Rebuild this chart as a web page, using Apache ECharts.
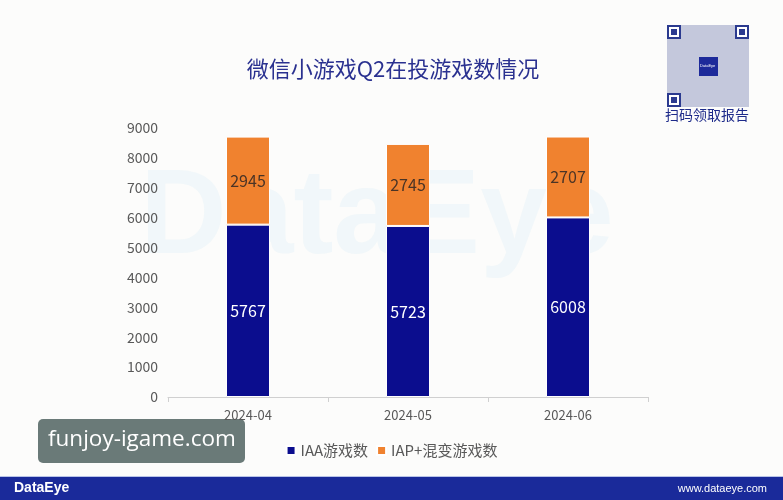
<!DOCTYPE html>
<html>
<head>
<meta charset="utf-8">
<script src="https://cdn.jsdelivr.net/npm/echarts@6/dist/echarts.min.js"></script>
<style>
  html, body { margin: 0; padding: 0; background: #fcfcfb; }
  #chartsId { width: 783px; height: 500px; }
</style>
</head>
<body>
<div id="chartsId"></div>
<script>
var months = ["2024-04", "2024-05", "2024-06"];
var iaaCount = [5767, 5723, 6008];
var iapCount = [2945, 2745, 2707];
var yTicks = [0, 9000, 1000];

var font = "'Noto Sans CJK SC', 'Noto Sans', sans-serif";

// 二维码示意块
function qrGraphic() {
  var items = [];
  var x0 = 667, y0 = 25, s = 82;
  items.push({ type: "rect", shape: { x: x0, y: y0, width: s, height: s }, style: { fill: "#c4c8dc" }, z: 10 });
  var finders = [[x0, y0], [x0 + s - 14, y0], [x0, y0 + s - 14]];
  finders.forEach(function (p) {
    items.push({ type: "rect", shape: { x: p[0], y: p[1], width: 14, height: 14 }, style: { fill: "#2b3a8f" }, z: 11 });
    items.push({ type: "rect", shape: { x: p[0] + 2, y: p[1] + 2, width: 10, height: 10 }, style: { fill: "#fff" }, z: 12 });
    items.push({ type: "rect", shape: { x: p[0] + 4, y: p[1] + 4, width: 6, height: 6 }, style: { fill: "#2b3a8f" }, z: 13 });
  });
  items.push({ type: "rect", shape: { x: x0 + 32, y: y0 + 32, width: 19, height: 19 }, style: { fill: "#1d2a9a" }, z: 12 });
  items.push({ type: "text", left: x0 + 33, top: y0 + 39, style: { text: "DataEye", fill: "#fff", font: "4px sans-serif" }, z: 13 });
  items.push({ type: "text", left: 665, top: 108, style: { text: "扫码领取报告", fill: "#1d2a8a", font: "14px " + font }, z: 11 });
  return items;
}

var myChart = echarts.init(document.getElementById("chartsId"));
var option = {
  backgroundColor: "#fcfcfb",
  animation: false,
  title: {
    text: "微信小游戏Q2在投游戏数情况",
    left: 388,
    textAlign: "center",
    top: 53,
    textStyle: { color: "#2a3190", fontSize: 22, fontWeight: "normal", fontFamily: font }
  },
  legend: {
    data: ["IAA游戏数", "IAP+混变游戏数"],
    bottom: 37,
    left: "center",
    itemWidth: 9,
    itemHeight: 9,
    itemGap: 8,
    icon: "rect",
    textStyle: { color: "#595959", fontSize: 15, fontFamily: font }
  },
  grid: { left: 168, right: 135, top: 128, bottom: 103, containLabel: false },
  xAxis: [
    {
      type: "category",
      data: months,
      axisLine: { lineStyle: { color: "#d0d0d0" } },
      axisTick: { show: true, length: 5, lineStyle: { color: "#d0d0d0" } },
      axisLabel: { color: "#595959", fontSize: 13, margin: 12, fontFamily: font }
    }
  ],
  yAxis: [
    {
      type: "value",
      min: yTicks[0],
      max: yTicks[1],
      interval: yTicks[2],
      splitLine: { show: false },
      axisLine: { show: false },
      axisLabel: {
        color: "#595959", fontSize: 14, margin: 10, fontFamily: font,
        formatter: function (v) { return String(v); }
      }
    }
  ],
  series: [
    {
      name: "IAA游戏数",
      type: "bar",
      stack: "total",
      barWidth: 44,
      itemStyle: { color: "#0b0d8e", borderColor: "#ffffff", borderWidth: 1 },
      label: { show: true, position: "inside", color: "#ffffff", fontSize: 16, fontFamily: font },
      data: iaaCount
    },
    {
      name: "IAP+混变游戏数",
      type: "bar",
      stack: "total",
      barWidth: 44,
      itemStyle: { color: "#f0822f", borderColor: "#ffffff", borderWidth: 1 },
      label: { show: true, position: "inside", color: "#4a3426", fontSize: 16, fontFamily: font },
      data: iapCount
    }
  ],
  graphic: [
    // 背景水印
    { type: "text", left: 140, top: 160, z: -1, style: { text: "DataEye", fill: "rgba(205,230,245,0.22)", font: "bold 120px sans-serif" } },
    // 底部条
    { type: "rect", shape: { x: 0, y: 477, width: 783, height: 23 }, style: { fill: "#1a2a9a" } },
    { type: "rect", shape: { x: 0, y: 476, width: 783, height: 1 }, style: { fill: "#b9c4e8" } },
    { type: "text", left: 14, top: 481, style: { text: "DataEye", fill: "#ffffff", font: "bold 14px sans-serif" } },
    { type: "text", right: 16, top: 483, style: { text: "www.dataeye.com", fill: "#ffffff", font: "11px sans-serif" } },
    // 站点水印框
    { type: "rect", shape: { x: 38, y: 419, width: 207, height: 44, r: 5 }, style: { fill: "#6a7a78" }, z: 0 },
    { type: "text", x: 48, y: 428, style: { text: "funjoy-igame.com", fill: "#ffffff", font: "22.5px 'Open Sans', sans-serif" }, z: 1 }
  ].concat(qrGraphic())
};
myChart.setOption(option);
</script>
</body>
</html>
